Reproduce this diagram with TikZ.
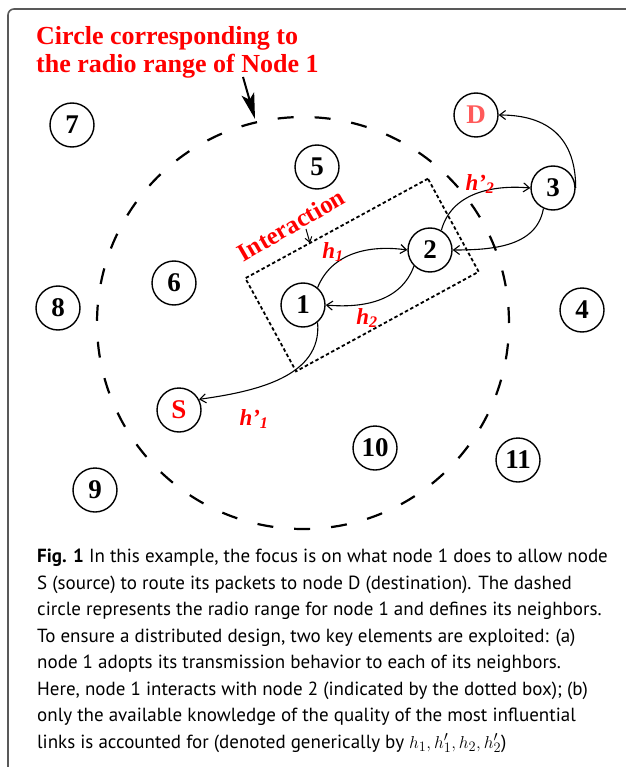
\documentclass[tikz,border=0pt]{standalone}
\usepackage{fontspec}
\setmainfont{Liberation Serif}
\newfontfamily\capfont{PT Sans}
\usepackage{xcolor}
\usetikzlibrary{arrows.meta}

\definecolor{lightred}{HTML}{FF5A5A}
\tikzset{
    nd/.style={draw, circle, line width=1.4pt, minimum size=44pt, inner sep=0pt,
        font=\fontsize{27}{27}\selectfont\bfseries},
    link/.style={-{Straight Barb[length=6pt,width=9pt]}, line width=1.1pt},
    lbl/.style={text=red, font=\fontsize{23}{23}\selectfont\bfseries\itshape},
    redtitle/.style={text=red, font=\fontsize{26}{28}\selectfont\bfseries}
}

\begin{document}
\begin{tikzpicture}[x=1pt, y=1pt]
    \useasboundingbox (0,0) rectangle (625,-767);

    % frame
    \draw [rounded corners=6pt, line width=1.6pt, gray!70!black] (8,-767) -- (8,-9) -- (626,-9);

    % radio range of node 1
    \draw [line width=2.2pt, dash pattern=on 16pt off 21pt] (303,-323) circle [radius=206];

    % interaction box
    \node [draw, line width=1.8pt, dash pattern=on 3.5pt off 2.5pt, minimum width=208pt,
        minimum height=106pt, rotate=28.6] (box) at (362,-275) {};

    % nodes
    \foreach \n/\x/\y in {1/303/305, 2/430/250, 3/553/188, 4/582/310, 5/317/167, 6/174/283,
        7/72/125, 8/58/308, 9/95/490, 10/375/448, 11/518/460}
        \node [nd] (n\n) at (\x,-\y) {\n};
    \node [nd, text=red] (nS) at (179,-410) {S};
    \node [nd, text=lightred] (nD) at (476,-115) {D};

    % links
    \draw [link] (n1.50) to [out=68, in=172] (n2.west);
    \draw [link] (n2.-135) to [out=-110, in=-5] (n1.east);
    \draw [link] (n2.60) to [out=75, in=175] (n3.west);
    \draw [link] (n3.-115) to [out=-100, in=0] (n2.east);
    \draw [link] (n3.east) to [out=90, in=0, looseness=1.2] (nD.east);
    \draw [link] (n1.-50) to [out=-85, in=8] (nS.28);

    % link labels
    \node [lbl] (lh1) at (333,-252) {h\textsubscript{1}};
    \node [lbl] (lh2) at (367,-318) {h\textsubscript{2}};
    \node [lbl] (lh1p) at (254,-419) {h'\textsubscript{1}};
    \node [lbl] (lh2p) at (480,-184) {h'\textsubscript{2}};

    % annotations
    \node [redtitle, anchor=base west, align=left, inner sep=0pt] (title) at (36,-73)
        {Circle corresponding to\\the radio range of Node 1};
    \coordinate (cTail) at (243,-77);
    \coordinate (cTip) at (255,-119);
    \draw [-{Stealth[length=26pt,width=13pt,inset=6pt]}, line width=2pt] (cTail) -- (cTip);

    \node [redtitle, rotate=30, font=\fontsize{25}{25}\selectfont\bfseries] (inter) at (291,-225) {Interaction};
    \coordinate (iTail) at (306,-229);
    \coordinate (iTip) at (310,-243);
    \draw [-{Straight Barb[length=5pt,width=7pt]}, line width=1pt] (iTail) -- (iTip);

    % caption
    \node [anchor=base west, align=left, inner sep=0pt, font=\capfont\fontsize{19}{26.5}\selectfont] (cap) at (37,-748)
        {\textbf{Fig. 1} In this example, the focus is on what node 1 does to allow node\\
        S (source) to route its packets to node D (destination). The dashed\\
        circle represents the radio range for node 1 and defines its neighbors.\\
        To ensure a distributed design, two key elements are exploited: (a)\\
        node 1 adopts its transmission behavior to each of its neighbors.\\
        Here, node 1 interacts with node 2 (indicated by the dotted box); (b)\\
        only the available knowledge of the quality of the most influential\\
        links is accounted for (denoted generically by $h_1, h'_1, h_2, h'_2$)};
\end{tikzpicture}
\end{document}
